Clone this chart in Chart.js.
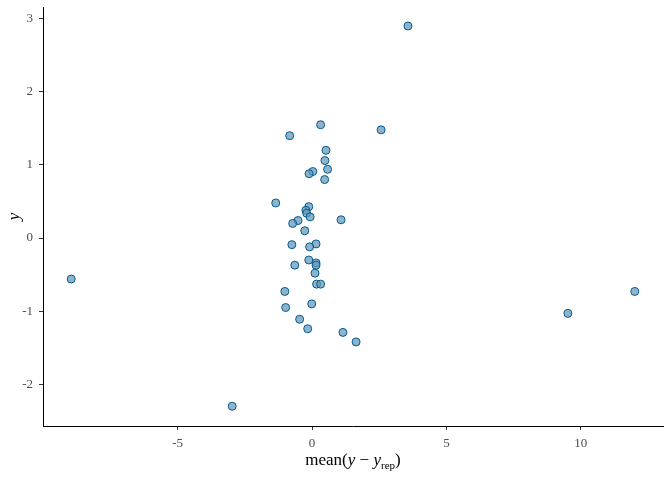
<!DOCTYPE html>
<html>
<head>
<meta charset="utf-8">
<script src="https://cdn.jsdelivr.net/npm/chart.js@4"></script>
<style>
  html, body { margin: 0; padding: 0; background: #fff; }
  #wrap { position: relative; width: 672px; height: 480px; }
  #xtitle {
    position: absolute; left: 43px; width: 620px; top: 450px;
    text-align: center; font-family: "Liberation Serif", serif; font-size: 17px; color: #000;
  }
  #xtitle sub { font-size: 11px; }
</style>
</head>
<body>
<div id="wrap">
  <canvas id="chart" width="672" height="480"></canvas>
  <div id="xtitle">mean(<i>y</i> &minus; <i>y</i><sub>rep</sub>)</div>
</div>
<script>
// average predictive error vs observed y
const errX = [-8.96, -2.97, 3.57, 2.57, 9.52, 12.01, 1.08, 1.64, 1.15,
  0.32, -0.83, 0.52, 0.48, 0.58, 0.03, -0.11, 0.47, -1.35, -0.12,
  -0.23, -0.20, -0.07, -0.52, -0.72, -0.27, -0.75, 0.15, -0.09, -0.12,
  0.15, 0.15, -0.64, 0.11, 0.17, 0.32, -1.01, -0.01, -0.98, -0.46, -0.16];
const obsY = [-0.56, -2.30, 2.90, 1.48, -1.03, -0.73, 0.25, -1.42, -1.29,
  1.55, 1.40, 1.20, 1.06, 0.94, 0.91, 0.88, 0.80, 0.48, 0.43,
  0.38, 0.34, 0.29, 0.24, 0.20, 0.10, -0.09, -0.08, -0.12, -0.30,
  -0.34, -0.37, -0.37, -0.48, -0.63, -0.63, -0.73, -0.90, -0.95, -1.11, -1.24];
const xTicks = [-5, 0, 5, 10];
const yTicks = [-2, -1, 0, 1, 2, 3];

const points = errX.map((x, i) => ({ x: x, y: obsY[i] }));
const tickFont = { family: 'Liberation Serif', size: 13 };

new Chart(document.getElementById('chart'), {
  type: 'scatter',
  data: {
    datasets: [{
      data: points,
      backgroundColor: 'rgba(100, 151, 177, 0.72)',
      borderColor: '#005b96',
      borderWidth: 1,
      pointRadius: 4,
      pointHoverRadius: 4
    }]
  },
  options: {
    responsive: false,
    animation: false,
    layout: { padding: { top: 7, right: 9, left: 0, bottom: 0 } },
    plugins: { legend: { display: false }, tooltip: { enabled: false } },
    scales: {
      x: {
        type: 'linear',
        min: -10.01,
        max: 13.06,
        afterBuildTicks: s => { s.ticks = xTicks.map(v => ({ value: v })); },
        afterFit: s => { s.height = 54; s.paddingLeft = 0; s.paddingRight = 0; },
        grid: { drawOnChartArea: false, drawTicks: true, tickLength: 4, color: '#333' },
        border: { display: true, color: '#000', width: 1 },
        ticks: { color: '#4d4d4d', font: tickFont, padding: 6 }
      },
      y: {
        type: 'linear',
        min: -2.57,
        max: 3.16,
        afterBuildTicks: s => { s.ticks = yTicks.map(v => ({ value: v })); },
        afterFit: s => { s.width = 43; s.paddingTop = 0; s.paddingBottom = 0; },
        grid: { drawOnChartArea: false, drawTicks: true, tickLength: 4, color: '#333' },
        border: { display: true, color: '#000', width: 1 },
        ticks: { color: '#4d4d4d', font: tickFont, padding: 6 },
        title: {
          display: true,
          text: 'y',
          color: '#000',
          font: { family: 'Liberation Serif', size: 17, style: 'italic' },
          padding: { top: 4, bottom: 2 }
        }
      }
    }
  }
});
</script>
</body>
</html>
